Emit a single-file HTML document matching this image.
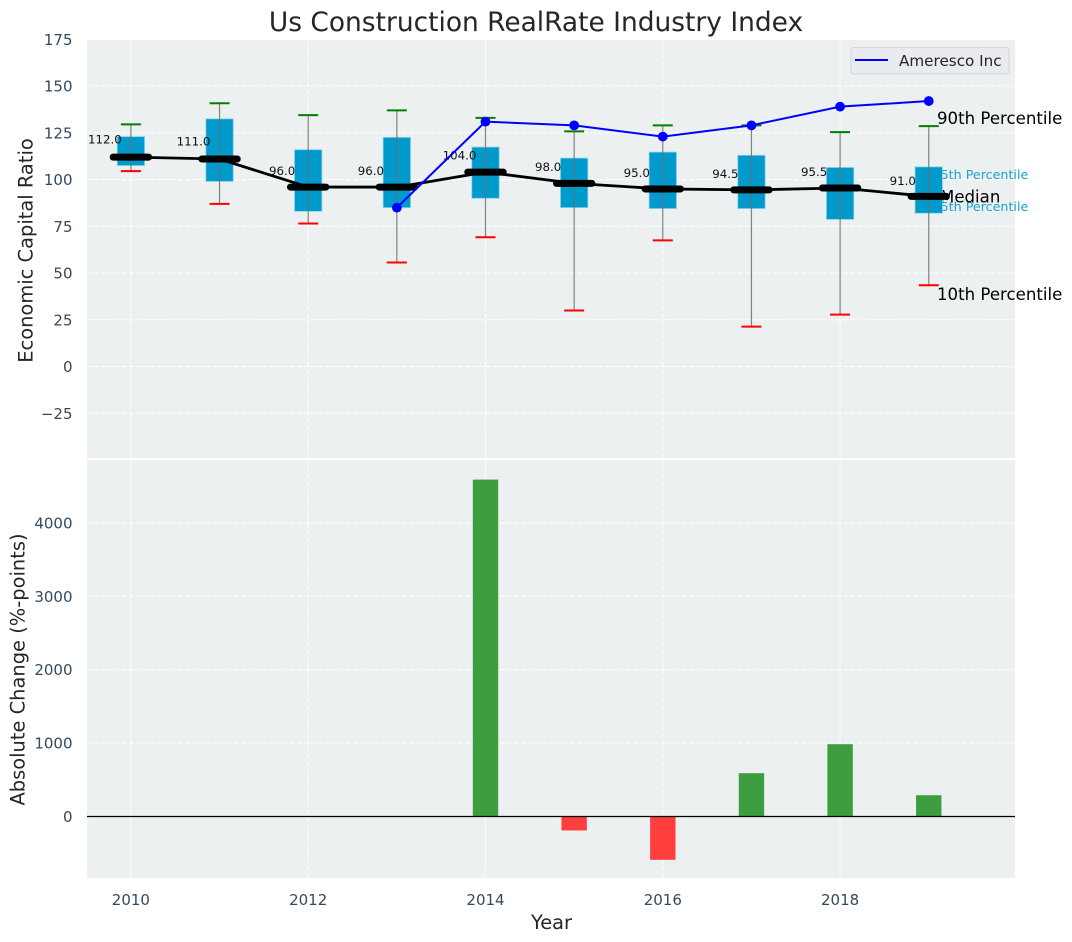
<!DOCTYPE html>
<html lang="en">
<head>
<meta charset="utf-8">
<title>Us Construction RealRate Industry Index</title>
<style>
html,body{margin:0;padding:0;background:#fff;}
svg{display:block;font-family:"DejaVu Sans","Liberation Sans",sans-serif;}
</style>
</head>
<body>
<svg id="chart" xmlns="http://www.w3.org/2000/svg" width="1072" height="942" viewBox="0 0 1072 942"></svg>
<script>
const years = [2010, 2011, 2012, 2013, 2014, 2015, 2016, 2017, 2018, 2019];
const medians = [112, 111, 96, 96, 104, 98, 95, 94.5, 95.5, 91];
const boxTops = [123, 132.5, 116, 122.6, 117.4, 111.5, 114.7, 113, 106.5, 106.8];
const boxBottoms = [107.5, 99, 83, 85, 90, 85, 84.5, 84.5, 78.7, 82];
const whiskerHighs = [129.5, 140.8, 134.5, 137, 133, 125.8, 129, 129, 125.4, 128.6];
const whiskerLows = [104.5, 87, 76.5, 55.7, 69.2, 30, 67.5, 21.4, 27.8, 43.5];
const companyYears = [2013, 2014, 2015, 2016, 2017, 2018, 2019];
const companyValues = [85, 131, 129, 123, 129, 139, 142];
const changeYears = [2014, 2015, 2016, 2017, 2018, 2019];
const changeValues = [4590, -190, -590, 590, 985, 290];
const topTicks = [-25, 0, 25, 50, 75, 100, 125, 150, 175];
const bottomTicks = [0, 1000, 2000, 3000, 4000];
const xTicks = [2010, 2012, 2014, 2016, 2018];

const svg = document.getElementById('chart');
const NS = 'http://www.w3.org/2000/svg';
const plotL = 87, plotR = 1015;
const topT = 40, topB = 458, botT = 460, botB = 878;
const xScale = v => 130.9 + (v - 2010) * 88.65;
const yTop = v => 366.6 - v * 1.87;
const yBot = v => 816.5 - v * 0.0734;
const fmtTick = v => (v < 0 ? '\u2212' + Math.abs(v) : String(v));

function make(tag, attrs, text) {
  const n = document.createElementNS(NS, tag);
  for (const k in attrs) n.setAttribute(k, attrs[k]);
  if (text !== undefined) n.textContent = text;
  svg.appendChild(n);
  return n;
}
let e;

e = make('rect', {x: plotL, y: topT, width: plotR - plotL, height: topB - topT, fill: '#ecf0f1'});


e = make('rect', {x: plotL, y: botT, width: plotR - plotL, height: botB - botT, fill: '#ecf0f1'});



const gridStyle = {stroke: '#ffffff', 'stroke-width': 1.1, 'stroke-dasharray': '5 2', 'stroke-opacity': 0.85, fill: 'none'};

topTicks.forEach(t => {
  const y = yTop(t);
  if (t !== 175) {
    e = make('line', Object.assign({x1: plotL, x2: plotR, y1: y, y2: y}, gridStyle));
    
    
  }
  e = make('text', {x: 72.5, y: y + 5.5, 'text-anchor': 'end', 'font-size': 15, fill: '#34495e'}, fmtTick(t));
  
  
});

bottomTicks.forEach(t => {
  const y = yBot(t);
  e = make('line', Object.assign({x1: plotL, x2: plotR, y1: y, y2: y}, gridStyle));
  
  
  e = make('text', {x: 72.5, y: y + 5.5, 'text-anchor': 'end', 'font-size': 15, fill: '#34495e'}, fmtTick(t));
  
  
});

xTicks.forEach(t => {
  const x = xScale(t);
  e = make('line', Object.assign({x1: x, x2: x, y1: topT, y2: topB}, gridStyle));
  
  
  e = make('line', Object.assign({x1: x, x2: x, y1: botT, y2: botB}, gridStyle));
  
  
  e = make('text', {x: x, y: 905, 'text-anchor': 'middle', 'font-size': 15, fill: '#34495e'}, String(t));
  
  
});

e = make('text', {x: 932.5, y: 179, 'font-size': 12.7, fill: '#1ba3d1'}, '75th Percentile');


e = make('text', {x: 932.5, y: 211, 'font-size': 12.7, fill: '#1ba3d1'}, '25th Percentile');


e = make('text', {x: 937, y: 124, 'font-size': 16.6, fill: '#000'}, '90th Percentile');


e = make('text', {x: 937, y: 300, 'font-size': 16.6, fill: '#000'}, '10th Percentile');


e = make('text', {x: 940, y: 202.5, 'font-size': 16.6, fill: '#000'}, 'Median');



years.forEach((yr, i) => {
  const x = xScale(yr);
  const halfBox = 13.7;
  const yHi = yTop(boxTops[i]), yLo = yTop(boxBottoms[i]);
  e = make('rect', {x: x - halfBox, y: yHi, width: halfBox * 2, height: yLo - yHi, fill: '#009acd', stroke: '#8fd3ea', 'stroke-width': 0.8});
  
  
  e = make('line', {x1: x, x2: x, y1: yTop(whiskerHighs[i]), y2: yTop(whiskerLows[i]), stroke: '#6e6e6e', 'stroke-width': 1.2, 'stroke-opacity': 0.85});
  
  
  e = make('line', {x1: x - 10, x2: x + 10, y1: yTop(whiskerHighs[i]), y2: yTop(whiskerHighs[i]), stroke: '#008000', 'stroke-width': 2});
  
  
  e = make('line', {x1: x - 10, x2: x + 10, y1: yTop(whiskerLows[i]), y2: yTop(whiskerLows[i]), stroke: '#ff0000', 'stroke-width': 2});
  
  
});

e = make('polyline', {points: years.map((yr, i) => xScale(yr) + ',' + yTop(medians[i])).join(' '), fill: 'none', stroke: '#000', 'stroke-width': 2.8, 'stroke-linejoin': 'round'});



years.forEach((yr, i) => {
  const x = xScale(yr), y = yTop(medians[i]);
  e = make('line', {x1: x - 17.7, x2: x + 17.7, y1: y, y2: y, stroke: '#000', 'stroke-width': 7, 'stroke-linecap': 'round'});
  
  
  e = make('text', {x: x - 26, y: yTop(medians[i] * 1.05) - 3, 'text-anchor': 'middle', 'font-size': 11.8, fill: '#111'}, medians[i].toFixed(1));
  
  
});

e = make('polyline', {points: companyYears.map((yr, i) => xScale(yr) + ',' + yTop(companyValues[i])).join(' '), fill: 'none', stroke: '#0000ff', 'stroke-width': 2});


companyYears.forEach((yr, i) => {
  e = make('circle', {cx: xScale(yr), cy: yTop(companyValues[i]), r: 4.9, fill: '#0000ff'});
  
  
});

changeYears.forEach((yr, i) => {
  const x = xScale(yr), v = changeValues[i];
  const y0 = yBot(0), y1 = yBot(v);
  e = make('rect', {x: x - 12.7, y: Math.min(y0, y1), width: 25.4, height: Math.abs(y1 - y0), fill: v >= 0 ? '#3d9e3f' : '#ff3e3e'});
  
  
});

e = make('line', {x1: plotL, x2: plotR, y1: yBot(0), y2: yBot(0), stroke: '#000', 'stroke-width': 1.2});



e = make('rect', {x: 851, y: 47.5, width: 158, height: 26.5, rx: 3, fill: '#e9ebf1', stroke: '#d3d5da', 'stroke-width': 1});


e = make('line', {x1: 855, x2: 888, y1: 60, y2: 60, stroke: '#0000ff', 'stroke-width': 2});


e = make('text', {x: 899, y: 66, 'font-size': 15.2, fill: '#262626'}, 'Ameresco Inc');



e = make('text', {x: 536, y: 31, 'text-anchor': 'middle', 'font-size': 26.45, fill: '#262626'}, 'Us Construction RealRate Industry Index');


e = make('text', {x: 551.5, y: 929, 'text-anchor': 'middle', 'font-size': 19.4, fill: '#262626'}, 'Year');


e = make('text', {transform: 'translate(32.5,250.5) rotate(-90)', 'text-anchor': 'middle', 'font-size': 19.45, fill: '#262626'}, 'Economic Capital Ratio');


e = make('text', {transform: 'translate(24.5,669.5) rotate(-90)', 'text-anchor': 'middle', 'font-size': 19.45, fill: '#262626'}, 'Absolute Change (%-points)');


</script>
</body>
</html>
